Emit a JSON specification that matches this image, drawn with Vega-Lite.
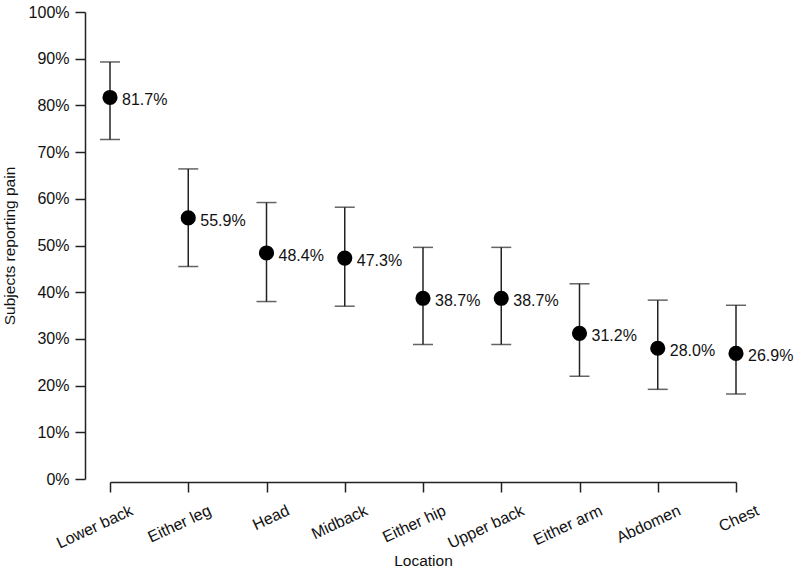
{
  "$schema": "https://vega.github.io/schema/vega-lite/v6.json",
  "autosize": "none",
  "width": 626,
  "height": 467,
  "padding": {"left": 110, "top": 12, "right": 64, "bottom": 93},
  "background": "white",
  "config": {
    "view": {"stroke": null},
    "font": "Liberation Sans",
    "axis": {
      "grid": false,
      "domainColor": "#222",
      "tickColor": "#222",
      "domainWidth": 1.5,
      "tickWidth": 1.5,
      "tickSize": 10,
      "labelFont": "Liberation Sans",
      "labelFontSize": 16,
      "labelColor": "#111",
      "titleFont": "Liberation Sans",
      "titleFontSize": 15.5,
      "titleFontWeight": "normal",
      "titleColor": "#111"
    }
  },
  "data": {
    "values": [
      {"location": "Lower back", "pct": 0.817, "lo": 0.727, "hi": 0.893},
      {"location": "Either leg", "pct": 0.559, "lo": 0.455, "hi": 0.664},
      {"location": "Head", "pct": 0.484, "lo": 0.380, "hi": 0.592},
      {"location": "Midback", "pct": 0.473, "lo": 0.370, "hi": 0.582},
      {"location": "Either hip", "pct": 0.387, "lo": 0.288, "hi": 0.496},
      {"location": "Upper back", "pct": 0.387, "lo": 0.288, "hi": 0.496},
      {"location": "Either arm", "pct": 0.312, "lo": 0.220, "hi": 0.418},
      {"location": "Abdomen", "pct": 0.280, "lo": 0.192, "hi": 0.383},
      {"location": "Chest", "pct": 0.269, "lo": 0.182, "hi": 0.372}
    ]
  },
  "encoding": {
    "x": {
      "field": "location",
      "type": "nominal",
      "sort": null,
      "scale": {"type": "point", "padding": 0},
      "axis": {
        "title": "Location",
        "offset": 3,
        "labelAngle": -25,
        "labelAlign": "right",
        "labelBaseline": "top",
        "labelPadding": 10,
        "labelOffset": 18,
        "titlePadding": 2
      }
    }
  },
  "layer": [
    {
      "mark": {"type": "rule", "color": "#222", "strokeWidth": 1.5},
      "encoding": {
        "y": {
          "field": "lo",
          "type": "quantitative",
          "scale": {"domain": [0, 1], "nice": false},
          "axis": {
            "title": "Subjects reporting pain",
            "format": ".0%",
            "values": [0, 0.1, 0.2, 0.3, 0.4, 0.5, 0.6, 0.7, 0.8, 0.9, 1],
            "offset": 25,
            "labelPadding": 6,
            "titlePadding": 11
          }
        },
        "y2": {"field": "hi"}
      }
    },
    {
      "mark": {"type": "tick", "color": "#222", "thickness": 1.5, "size": 20, "orient": "horizontal"},
      "encoding": {"y": {"field": "lo", "type": "quantitative"}}
    },
    {
      "mark": {"type": "tick", "color": "#222", "thickness": 1.5, "size": 20, "orient": "horizontal"},
      "encoding": {"y": {"field": "hi", "type": "quantitative"}}
    },
    {
      "mark": {"type": "circle", "color": "black", "opacity": 1, "size": 230},
      "encoding": {"y": {"field": "pct", "type": "quantitative"}}
    },
    {
      "mark": {"type": "text", "align": "left", "baseline": "middle", "dx": 12, "dy": 3, "fontSize": 16, "color": "#111"},
      "encoding": {
        "y": {"field": "pct", "type": "quantitative"},
        "text": {"field": "pct", "type": "quantitative", "format": ".1%"}
      }
    }
  ]
}
